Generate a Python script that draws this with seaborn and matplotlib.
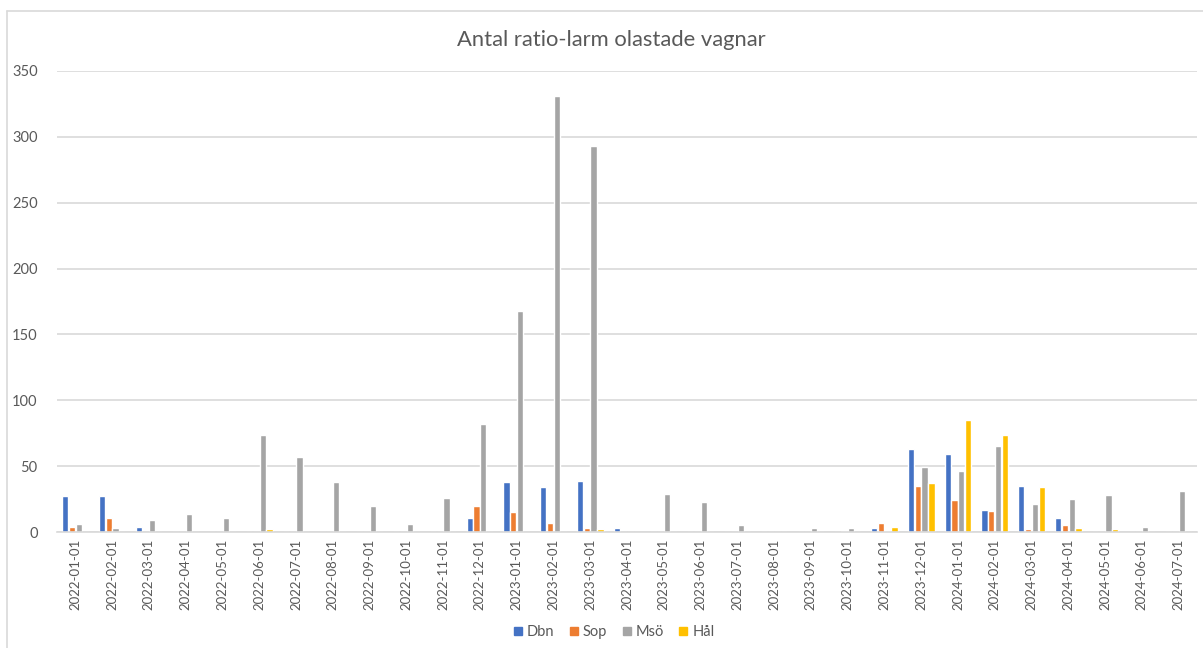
import numpy as np
import pandas as pd
import matplotlib
matplotlib.use("Agg")
import matplotlib.pyplot as plt
from matplotlib.lines import Line2D
import seaborn as sns

# Monthly counts of ratio alarms for unloaded wagons, per site
months = [
    "2022-01-01", "2022-02-01", "2022-03-01", "2022-04-01", "2022-05-01", "2022-06-01",
    "2022-07-01", "2022-08-01", "2022-09-01", "2022-10-01", "2022-11-01", "2022-12-01",
    "2023-01-01", "2023-02-01", "2023-03-01", "2023-04-01", "2023-05-01", "2023-06-01",
    "2023-07-01", "2023-08-01", "2023-09-01", "2023-10-01", "2023-11-01", "2023-12-01",
    "2024-01-01", "2024-02-01", "2024-03-01", "2024-04-01", "2024-05-01", "2024-06-01",
    "2024-07-01",
]
dbn = [27, 27, 4, 0, 0, 0, 0, 0, 0, 0, 0, 11, 38, 34, 39, 3, 0, 0, 0, 0, 0, 0, 3, 63,
       59, 17, 35, 11, 0, 0, 0]
sop = [4, 11, 0, 0, 0, 0, 0, 0, 0, 0, 0, 20, 15, 7, 3, 0, 0, 0, 0, 0, 0, 1, 7, 35,
       24, 16, 2, 5, 0, 0, 0]
mso = [6, 3, 9, 14, 11, 74, 57, 38, 20, 6, 26, 82, 168, 331, 293, 0, 29, 23, 5, 0, 3, 3, 1, 49,
       46, 65, 21, 25, 28, 4, 31]
hal = [0, 0, 0, 0, 0, 2, 0, 0, 0, 0, 0, 0, 0, 0, 2, 0, 0, 0, 0, 0, 0, 0, 4, 37,
       85, 74, 34, 3, 2, 0, 0]

series_names = ["Dbn", "Sop", "Msö", "Hål"]
series_colors = ["#4472C4", "#ED7D31", "#A5A5A5", "#FFC000"]

df = pd.DataFrame({"Månad": months, "Dbn": dbn, "Sop": sop, "Msö": mso, "Hål": hal})
long_df = df.melt(id_vars="Månad", var_name="Serie", value_name="Antal")

sns.set_theme(style="white")
plt.rcParams["font.family"] = ["Lato", "DejaVu Sans"]

text_color = "#595959"
grid_color = "#D9D9D9"

fig = plt.figure(figsize=(12.03, 6.48), dpi=100)
ax = fig.add_axes([57 / 1203, 1 - 532 / 648, (1197 - 57) / 1203, (532 - 71) / 648])

sns.barplot(
    data=long_df, x="Månad", y="Antal", hue="Serie",
    hue_order=series_names, palette=series_colors,
    width=0.74, gap=0.08, saturation=1, ax=ax, legend=False,
)

ax.set_ylim(0, 350)
ax.set_yticks(np.arange(0, 351, 50))
ax.set_xlim(-0.5, len(months) - 0.5)
ax.yaxis.grid(True, color=grid_color, linewidth=1.2)
ax.set_axisbelow(True)
for side in ["top", "right", "left"]:
    ax.spines[side].set_visible(False)
ax.spines["bottom"].set_color(grid_color)
ax.spines["bottom"].set_linewidth(1.2)
ax.set_xlabel("")
ax.set_ylabel("")
ax.tick_params(axis="y", length=0, pad=14, labelsize=10.5, labelcolor=text_color)
ax.tick_params(axis="x", length=0, pad=5, labelsize=9.5, labelcolor=text_color)
ax.set_xticks(range(len(months)))
ax.set_xticklabels(months, rotation=90, va="top", ha="center")

fig.text(0.508, 1 - 40 / 648, "Antal ratio-larm olastade vagnar",
         ha="center", va="center", fontsize=15.8, color=text_color)

handles = [Line2D([], [], marker="s", linestyle="none", markersize=6,
                  markerfacecolor=c, markeredgecolor=c) for c in series_colors]
fig.legend(handles, series_names, loc="center", bbox_to_anchor=(0.51, 1 - 632 / 648),
           ncol=4, frameon=False, fontsize=10.5, labelcolor=text_color,
           handlelength=0.7, handletextpad=0.25, columnspacing=1.0)

# chart area border
fig.add_artist(Line2D([6.5 / 1203, 1.0], [1 - 10.5 / 648, 1 - 10.5 / 648],
                      transform=fig.transFigure, color=grid_color, linewidth=1.2))
fig.add_artist(Line2D([6.5 / 1203, 6.5 / 1203], [0.0, 1 - 10.5 / 648],
                      transform=fig.transFigure, color=grid_color, linewidth=1.2))

fig.savefig("out.png", dpi=100, facecolor="white")
